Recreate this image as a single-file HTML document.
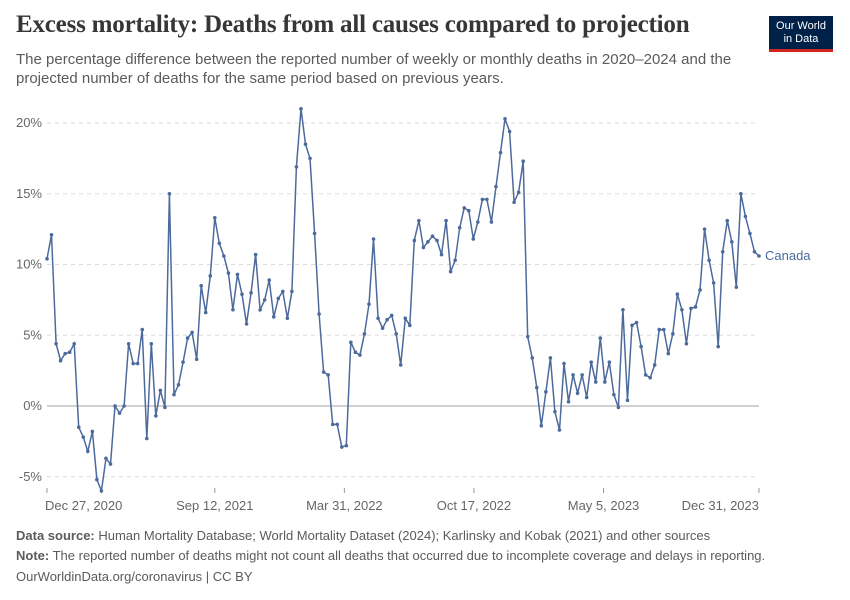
<!DOCTYPE html>
<html><head><meta charset="utf-8"><style>
body{margin:0;background:#fff;font-family:"Liberation Sans",sans-serif;}
#wrap{position:relative;width:850px;height:600px;overflow:hidden;}
.t{position:absolute;margin:0;}
</style></head><body>
<div id="wrap">
<h1 class="t" style="left:16px;top:11px;font-family:'Liberation Serif',serif;font-size:25px;font-weight:bold;color:#363636;letter-spacing:-0.2px">Excess mortality: Deaths from all causes compared to projection</h1>
<div class="t" style="left:16px;top:50px;width:740px;font-size:15px;line-height:19px;color:#5b5b5b">The percentage difference between the reported number of weekly or monthly deaths in 2020–2024 and the projected number of deaths for the same period based on previous years.</div>
<div class="t" style="left:769px;top:16px;width:64px;height:36px;background:#002147;border-bottom:3px solid #ce261e;color:#fff;font-size:11px;line-height:13px;text-align:center;padding-top:4px;box-sizing:border-box">Our World<br>in Data</div>
<svg id="chart" width="850" height="600" style="position:absolute;left:0;top:0"></svg>
<div class="t" style="left:16px;top:528px;font-size:13px;color:#5b5b5b"><b>Data source:</b> Human Mortality Database; World Mortality Dataset (2024); Karlinsky and Kobak (2021) and other sources</div>
<div class="t" style="left:16px;top:548px;font-size:13px;color:#5b5b5b"><b>Note:</b> The reported number of deaths might not count all deaths that occurred due to incomplete coverage and delays in reporting.</div>
<div class="t" style="left:16px;top:569px;font-size:13px;color:#5b5b5b">OurWorldinData.org/coronavirus | CC BY</div>
</div>
<script>
const values=[10.4,12.1,4.4,3.2,3.7,3.8,4.4,-1.5,-2.2,-3.2,-1.8,-5.2,-6.0,-3.7,-4.1,0.0,-0.5,0.0,4.4,3.0,3.0,5.4,-2.3,4.4,-0.7,1.1,-0.1,15.0,0.8,1.5,3.1,4.8,5.2,3.3,8.5,6.6,9.2,13.3,11.5,10.6,9.4,6.8,9.3,7.9,5.8,8.0,10.7,6.8,7.5,8.9,6.3,7.6,8.1,6.2,8.1,16.9,21.0,18.5,17.5,12.2,6.5,2.4,2.2,-1.3,-1.3,-2.9,-2.8,4.5,3.8,3.6,5.1,7.2,11.8,6.2,5.5,6.1,6.4,5.1,2.9,6.2,5.7,11.7,13.1,11.2,11.6,12.0,11.7,10.7,13.1,9.5,10.3,12.6,14.0,13.8,11.8,13.0,14.6,14.6,13.0,15.5,17.9,20.3,19.4,14.4,15.1,17.3,4.9,3.4,1.3,-1.4,1.0,3.4,-0.4,-1.7,3.0,0.3,2.2,0.9,2.2,0.6,3.1,1.7,4.8,1.7,3.1,0.8,-0.1,6.8,0.4,5.7,5.9,4.2,2.2,2.0,2.9,5.4,5.4,3.7,5.1,7.9,6.8,4.4,6.9,7.0,8.2,12.5,10.3,8.7,4.2,10.9,13.1,11.6,8.4,15.0,13.4,12.2,10.9,10.6];
const yTicks=[-5,0,5,10,15,20];
const xTickLabels=["Dec 27, 2020","Sep 12, 2021","Mar 31, 2022","Oct 17, 2022","May 5, 2023","Dec 31, 2023"];
const startDate=Date.UTC(2020,11,27);
const endDate=Date.UTC(2023,11,31);
const DAY=86400000;
const X0=47,X1=759,Y0=406,PX=14.15;
function x(t){return X0+(t-startDate)/(endDate-startDate)*(X1-X0);}
function y(v){return Y0-v*PX;}
function parse(s){return Date.parse(s+" UTC");}
const svg=document.getElementById('chart');
const NS="http://www.w3.org/2000/svg";
function mk(tag,attrs){const e=document.createElementNS(NS,tag);for(const k in attrs)e.setAttribute(k,attrs[k]);svg.appendChild(e);return e;}
yTicks.forEach(v=>{
  const l=mk('line',{x1:X0,x2:X1,y1:y(v),y2:y(v),stroke:v===0?'#a1a1a1':'#dddddd','stroke-dasharray':v===0?'':'4,4','stroke-width':1});
  
  
  const t=mk('text',{x:42,y:y(v)+4,'text-anchor':'end','font-size':13,fill:'#666','font-family':'Liberation Sans, sans-serif'});
  t.textContent=v+'%';
  
  
});
xTickLabels.forEach((s,i)=>{
  const px=x(parse(s));
  const l=mk('line',{x1:px,x2:px,y1:488,y2:493,stroke:'#999'});
  
  
  const t=mk('text',{x:px,y:510,'text-anchor':i===0?'start':(i===xTickLabels.length-1?'end':'middle'),'font-size':13,fill:'#666','font-family':'Liberation Sans, sans-serif'});
  if(i===0)t.setAttribute('x',px-2);
  t.textContent=s;
  
  
});
const pts=values.map((v,i)=>[x(startDate+i*7*DAY),y(v)]);
const path=mk('path',{d:'M'+pts.map(p=>p[0].toFixed(1)+','+p[1].toFixed(1)).join('L'),fill:'none',stroke:'#4c6a9c','stroke-width':1.5});


pts.forEach(p=>{
  const c=mk('circle',{cx:p[0],cy:p[1],r:1.8,fill:'#4c6a9c'});
  
  
});
const last=pts[pts.length-1];
const lab=mk('text',{x:last[0]+6,y:last[1]+4,'font-size':13,fill:'#4c6a9c','font-family':'Liberation Sans, sans-serif'});
lab.textContent='Canada';


</script>
</body></html>
